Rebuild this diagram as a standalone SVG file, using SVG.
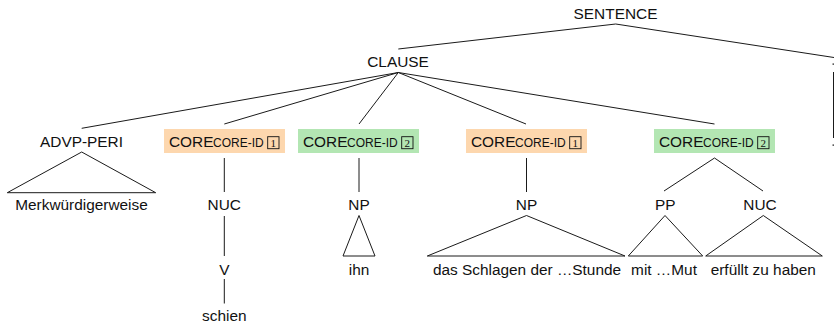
<svg xmlns="http://www.w3.org/2000/svg" width="834" height="324" viewBox="0 0 834 324">
  <style>
    text { font-family: "Liberation Sans", Arial, Helvetica, sans-serif; font-size: 15.4px; fill: #111; }
    .c { text-anchor: middle; }
    .sc { font-size: 12px; }
    .num { font-family: "Liberation Serif", "Times New Roman", serif; font-size: 11px; text-anchor: middle; }
    .edge { stroke: #1a1a1a; stroke-width: 1; fill: none; }
    .tri { stroke: #1a1a1a; stroke-width: 1; fill: none; stroke-linejoin: miter; }
    .idbox { fill: none; stroke: #111; stroke-width: 0.9; }
    .core1 { fill: #FDD7AE; }
    .core2 { fill: #B3E6B3; }
  </style>

  <!-- tree edges -->
  <g id="connectors">
    <polyline class="edge" points="398.3,49 615.7,24 860,61.5"/>
    <line class="edge" x1="398.3" y1="72.5" x2="81.7" y2="128.3"/>
    <line class="edge" x1="398.3" y1="72.5" x2="224.3" y2="124"/>
    <line class="edge" x1="398.3" y1="72.5" x2="359" y2="124"/>
    <line class="edge" x1="398.3" y1="72.5" x2="526" y2="124"/>
    <line class="edge" x1="398.3" y1="72.5" x2="714.5" y2="124"/>
    <line class="edge" x1="224.3" y1="158" x2="224.3" y2="192"/>
    <line class="edge" x1="224.3" y1="216" x2="224.3" y2="256"/>
    <line class="edge" x1="224.3" y1="279" x2="224.3" y2="303.5"/>
    <line class="edge" x1="359" y1="158" x2="359" y2="192"/>
    <line class="edge" x1="526.5" y1="158" x2="526.5" y2="192"/>
    <line class="edge" x1="714.5" y1="158" x2="664" y2="191"/>
    <line class="edge" x1="714.5" y1="158" x2="763" y2="191"/>
    <!-- roof triangles -->
    <polygon class="tri" points="81.7,152 7.3,192.7 155.7,192.7"/>
    <polygon class="tri" points="359,215.5 343,256 375,256"/>
    <polygon class="tri" points="526.5,215.5 427.3,256 625,256"/>
    <polygon class="tri" points="665,215.5 628.3,256 702.7,256"/>
    <polygon class="tri" points="763.3,215.5 705.7,256 822.3,256"/>
    <!-- clipped sibling at the right edge -->
    <line class="edge" x1="833.5" y1="72" x2="833.5" y2="138"/>
    <rect x="832.5" y="63.5" width="1.5" height="1.2" fill="#1a1a1a"/>
    <rect x="832.5" y="144.5" width="1.5" height="1.2" fill="#1a1a1a"/>
  </g>

  <g id="sentence"><text class="c" x="615.5" y="19">SENTENCE</text></g>
  <g id="clause"><text class="c" x="398" y="66.5">CLAUSE</text></g>

  <g id="advp-peri">
    <text class="c" x="81.5" y="146.5">ADVP-PERI</text>
    <text class="c" x="81.5" y="210">Merkwürdigerweise</text>
  </g>

  <g id="core-a">
    <rect class="core1" x="164" y="129" width="121" height="24"/>
    <text x="169" y="146.5">CORE<tspan class="sc" x="213">CORE-ID</tspan></text>
    <rect class="idbox" x="267.7" y="136.7" width="11.3" height="12"/>
    <text class="num" x="273.35" y="146.5">1</text>
  </g>
  <g id="nuc-a"><text class="c" x="224.3" y="210">NUC</text></g>
  <g id="v-a"><text class="c" x="224.3" y="274.5">V</text></g>
  <g id="word-schien"><text class="c" x="224.3" y="321">schien</text></g>

  <g id="core-b">
    <rect class="core2" x="298" y="129" width="121" height="24"/>
    <text x="303" y="146.5">CORE<tspan class="sc" x="347">CORE-ID</tspan></text>
    <rect class="idbox" x="401.7" y="136.7" width="11.3" height="12"/>
    <text class="num" x="407.35" y="146.5">2</text>
  </g>
  <g id="np-b">
    <text class="c" x="359" y="210">NP</text>
    <text class="c" x="359" y="274.5">ihn</text>
  </g>

  <g id="core-c">
    <rect class="core1" x="466" y="129" width="121" height="24"/>
    <text x="471" y="146.5">CORE<tspan class="sc" x="515">CORE-ID</tspan></text>
    <rect class="idbox" x="569.7" y="136.7" width="11.3" height="12"/>
    <text class="num" x="575.35" y="146.5">1</text>
  </g>
  <g id="np-c">
    <text class="c" x="526.5" y="210">NP</text>
    <text class="c" x="527" y="274.5">das Schlagen der …Stunde</text>
  </g>

  <g id="core-d">
    <rect class="core2" x="654" y="129" width="121" height="24"/>
    <text x="659" y="146.5">CORE<tspan class="sc" x="703">CORE-ID</tspan></text>
    <rect class="idbox" x="757.7" y="136.7" width="11.3" height="12"/>
    <text class="num" x="763.35" y="146.5">2</text>
  </g>
  <g id="pp-d">
    <text class="c" x="665.3" y="210">PP</text>
    <text class="c" x="664" y="274.5">mit …Mut</text>
  </g>
  <g id="nuc-d">
    <text class="c" x="760" y="210">NUC</text>
    <text class="c" x="763.3" y="274.5">erfüllt zu haben</text>
  </g>
</svg>
